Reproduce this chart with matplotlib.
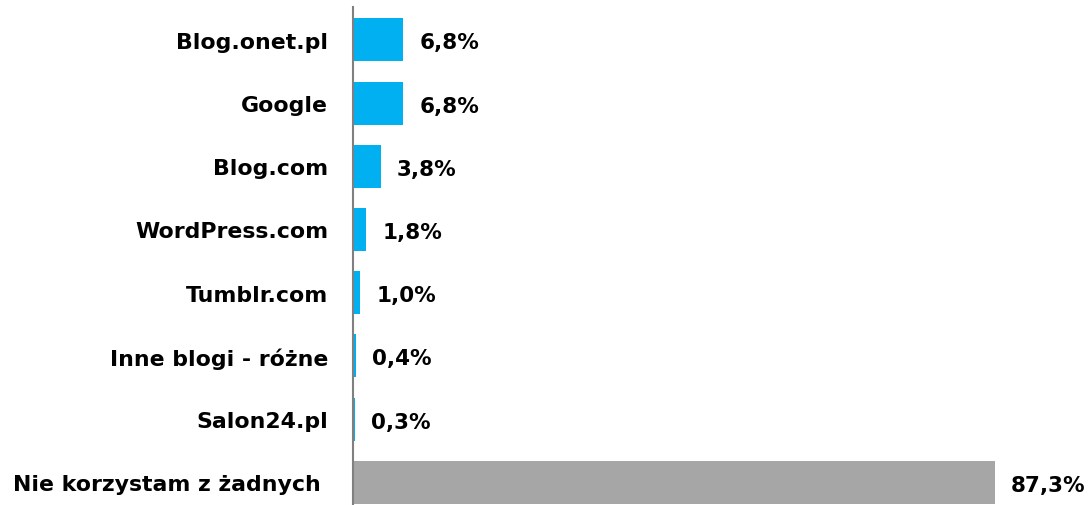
import matplotlib.pyplot as plt
import matplotlib.transforms as mtransforms

categories = ['Blog.onet.pl', 'Google', 'Blog.com', 'WordPress.com', 'Tumblr.com',
              'Inne blogi - różne', 'Salon24.pl', 'Nie korzystam z żadnych']
values = [6.8, 6.8, 3.8, 1.8, 1.0, 0.4, 0.3, 87.3]
colors = ['#00B0F0'] * 7 + ['#A6A6A6']

fig = plt.figure(figsize=(10.88, 5.06), dpi=100)
ax = fig.add_axes([353 / 1088, 0.0, 1 - 353 / 1088, 498 / 506])

ypos = list(range(len(categories)))
ax.barh(ypos, values, height=0.68, color=colors)

# value labels next to bars
for y, v in zip(ypos, values):
    ax.text(v + 2.2, y + 0.04, f'{v:.1f}%'.replace('.', ','), va='center', ha='left',
            fontsize=15.5, fontweight='bold', color='black')

ax.set_xlim(0, 100)
ax.set_ylim(7.36, -0.52)
ax.set_yticks(ypos)
ax.set_yticklabels(categories, fontsize=15.8, fontweight='bold')
ax.tick_params(axis='y', length=0, pad=18)
ax.set_xticks([])

# last label sits a bit further left in the original
last = ax.get_yticklabels()[-1]
last.set_transform(last.get_transform() +
                   mtransforms.ScaledTranslation(-7 / 100, 0, fig.dpi_scale_trans))

for s in ['top', 'right', 'bottom']:
    ax.spines[s].set_visible(False)
ax.spines['left'].set_color('#808080')
ax.spines['left'].set_linewidth(1.5)

fig.savefig('out.png', dpi=100)
